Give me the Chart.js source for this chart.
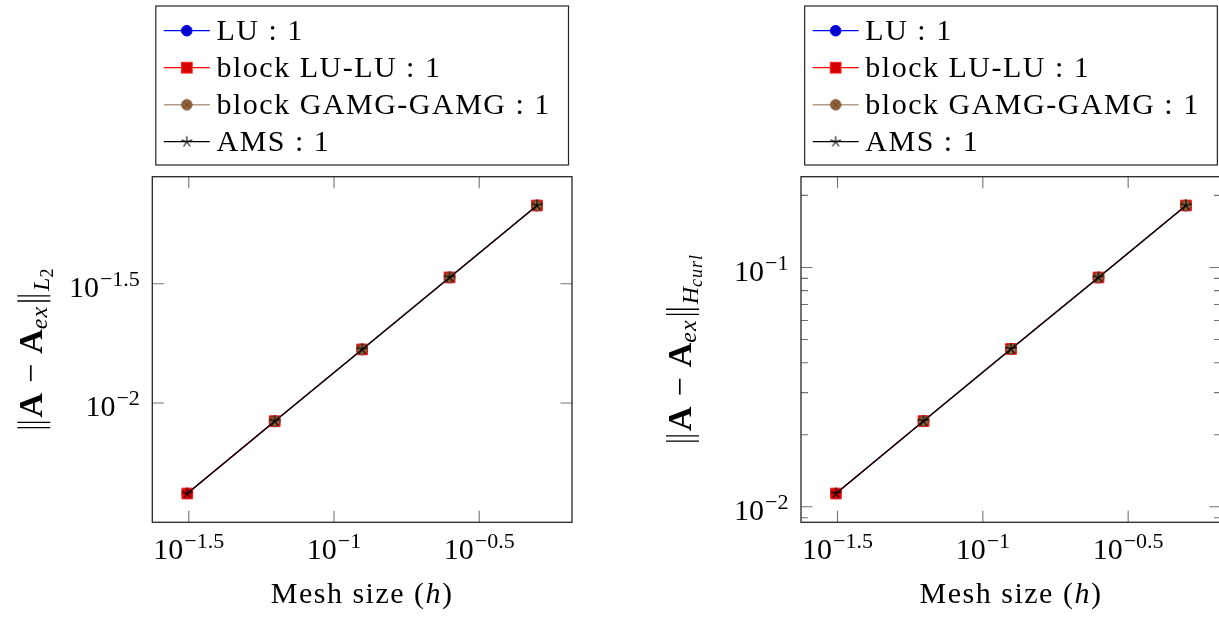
<!DOCTYPE html>
<html>
<head>
<meta charset="utf-8">
<script src="https://cdn.jsdelivr.net/npm/chart.js@4.4.1/dist/chart.umd.min.js"></script>
<style>
  html, body { margin: 0; padding: 0; background: #fff; overflow: hidden; width: 1219px; height: 617px; }
  #wrap { position: relative; width: 1219px; height: 617px; overflow: hidden; }
  canvas { position: absolute; top: 0; }
  #errL2 { left: 0; }
  #errHcurl { left: 610px; }
</style>
</head>
<body>
<div id="wrap">
  <canvas id="errL2" width="610" height="617"></canvas>
  <canvas id="errHcurl" width="660" height="617"></canvas>
</div>
<script>
// Mesh sizes h of the refinement study
const meshSizes = [0.03125, 0.0625, 0.125, 0.25, 0.5];

// Solver labels (element order 1)
const seriesNames = ['LU : 1', 'block LU-LU : 1', 'block GAMG-GAMG : 1', 'AMS : 1'];

// ||A - A_ex|| in L2 norm
const luL2   = [0.00417, 0.00838, 0.01677, 0.0336, 0.0673];
const luluL2 = [0.00417, 0.00838, 0.01677, 0.0336, 0.0673];
const gamgL2 = [null,    0.00838, 0.01677, 0.0336, 0.0673];
const amsL2  = [0.00417, 0.00838, 0.01677, 0.0336, 0.0673];

// ||A - A_ex|| in H(curl) norm
const luHcurl   = [0.01136, 0.0228, 0.04565, 0.0908, 0.1815];
const luluHcurl = [0.01136, 0.0228, 0.04565, 0.0908, 0.1815];
const gamgHcurl = [null,    0.0228, 0.04565, 0.0908, 0.1815];
const amsHcurl  = [0.01136, 0.0228, 0.04565, 0.0908, 0.1815];

// Tick labels are powers of ten; these are the exponents
const xTickExps = ['-1.5', '-1', '-0.5'];
const yTickExpsL2 = ['-1.5', '-2'];
const yTickExpsHcurl = ['-1', '-2'];
const yMinorHcurl = [0.009, 0.02, 0.03, 0.04, 0.05, 0.06, 0.07, 0.08, 0.09, 0.2];

const FAMILY = '"Liberation Serif", "DejaVu Serif", serif';
const F = {
  main: '30px ' + FAMILY,
  italic: 'italic 30px ' + FAMILY,
  tick: '30px ' + FAMILY,
  sup: '22px ' + FAMILY,
  ttl: '34px ' + FAMILY,
  ttlBold: 'bold 34px ' + FAMILY,
  sub: 'italic 24px ' + FAMILY,
  subsub: 'italic 18px ' + FAMILY,
  subsubUp: '18px ' + FAMILY
};

// ---- marker glyphs -------------------------------------------------------
function makeOtimes() {
  const c = document.createElement('canvas');
  c.width = 14; c.height = 14;
  const g = c.getContext('2d');
  const r = 5.2, cx = 7, cy = 7;
  g.beginPath(); g.arc(cx, cy, r, 0, Math.PI * 2);
  g.fillStyle = '#96653a'; g.fill();
  g.lineWidth = 0.8; g.strokeStyle = '#5e3d1f'; g.stroke();
  const d = r * Math.SQRT1_2;
  g.beginPath();
  g.moveTo(cx - d, cy - d); g.lineTo(cx + d, cy + d);
  g.moveTo(cx + d, cy - d); g.lineTo(cx - d, cy + d);
  g.stroke();
  return c;
}
function makeStar() {
  const c = document.createElement('canvas');
  c.width = 14; c.height = 14;
  const g = c.getContext('2d');
  const r = 5.2, cx = 7, cy = 7;
  g.beginPath();
  for (let k = 0; k < 5; k++) {
    const a = -Math.PI / 2 + k * 2 * Math.PI / 5;
    g.moveTo(cx, cy);
    g.lineTo(cx + r * Math.cos(a), cy + r * Math.sin(a));
  }
  g.lineWidth = 1.1; g.strokeStyle = '#000'; g.lineCap = 'round'; g.stroke();
  return c;
}
const otimesImg = makeOtimes();
const starImg = makeStar();

function drawMarker(ctx, ds, x, y) {
  const s = ds.pointStyle;
  if (s instanceof HTMLCanvasElement) {
    ctx.drawImage(s, x - s.width / 2, y - s.height / 2);
    return;
  }
  ctx.fillStyle = ds.pointBackgroundColor;
  ctx.strokeStyle = ds.pointBorderColor;
  ctx.lineWidth = ds.pointBorderWidth;
  if (s === 'circle') {
    ctx.beginPath(); ctx.arc(x, y, ds.pointRadius, 0, Math.PI * 2);
    ctx.fill(); ctx.stroke();
  } else if (s === 'rect') {
    const h = ds.pointRadius * Math.SQRT1_2;
    ctx.fillRect(x - h, y - h, 2 * h, 2 * h);
    ctx.strokeRect(x - h, y - h, 2 * h, 2 * h);
  }
}

// ---- text with super/subscripts ------------------------------------------
// A part is either a text run {t, font, dy, dx, ls} or a norm bar pair {norm: advance}
function partWidth(ctx, p) {
  if (p.norm) return p.norm + (p.dx || 0);
  ctx.font = p.font; ctx.letterSpacing = p.ls || '0px';
  return ctx.measureText(p.t).width + (p.dx || 0);
}
function drawRich(ctx, parts, x, y, align) {
  let w = 0;
  for (const p of parts) w += partWidth(ctx, p);
  let cx = align === 'center' ? x - w / 2 : align === 'right' ? x - w : x;
  ctx.textAlign = 'left';
  ctx.textBaseline = 'alphabetic';
  for (const p of parts) {
    cx += (p.dx || 0);
    if (p.norm) {
      ctx.save();
      ctx.strokeStyle = ctx.fillStyle;
      ctx.lineWidth = 1.3;
      ctx.beginPath();
      for (const bx of [cx + p.norm * 0.3, cx + p.norm * 0.7]) {
        ctx.moveTo(bx, y - 25); ctx.lineTo(bx, y + 8);
      }
      ctx.stroke();
      ctx.restore();
      cx += p.norm;
      continue;
    }
    ctx.font = p.font; ctx.letterSpacing = p.ls || '0px';
    ctx.fillText(p.t, cx, y + (p.dy || 0));
    cx += ctx.measureText(p.t).width;
  }
  ctx.letterSpacing = '0px';
}
function powerLabel(exp) {
  return [
    { t: '10', font: F.tick },
    { t: exp.replace('-', '\u2212'), font: F.sup, dy: -11, dx: 1 }
  ];
}

const LS = '1.5px';
const xTitleParts = [
  { t: 'Mesh size (', font: F.main, ls: LS },
  { t: 'h', font: F.italic, ls: LS },
  { t: ')', font: F.main, ls: LS }
];
function normTitle(subMain, subSmall, smallFont) {
  return [
    { norm: 13 },
    { t: 'A', font: F.ttlBold, dx: 1 },
    { t: '\u2212', font: F.ttl, dx: 10 },
    { t: 'A', font: F.ttlBold, dx: 10 },
    { t: 'ex', font: F.sub, dy: 5, ls: '1px' },
    { norm: 13, dx: 1 },
    { t: subMain, font: F.sub, dy: 7, dx: 1 },
    { t: subSmall, font: smallFont, dy: 11, ls: '1px' }
  ];
}
const yTitleL2 = normTitle('L', '2', F.subsubUp);
const yTitleHcurl = normTitle('H', 'curl', F.subsub);

// ---- axes frame, inward ticks, labels and legend -------------------------
const framePlugin = {
  id: 'frame',
  afterDraw(chart, args, opts) {
    const ctx = chart.ctx;
    const { left, right, top, bottom } = chart.chartArea;
    const xs = chart.scales.x, ys = chart.scales.y;
    const xMajor = opts.xExps.map(e => ({ e, px: xs.getPixelForValue(Math.pow(10, parseFloat(e))) }));
    const yMajor = opts.yExps.map(e => ({ e, py: ys.getPixelForValue(Math.pow(10, parseFloat(e))) }));
    const yMinor = opts.yMinor.map(v => ys.getPixelForValue(v));
    ctx.save();

    // ticks, pointing inwards on all four sides
    ctx.strokeStyle = 'rgba(0,0,0,0.55)';
    ctx.lineWidth = 1.1;
    ctx.beginPath();
    for (const { px } of xMajor) {
      ctx.moveTo(px, bottom); ctx.lineTo(px, bottom - 11.5);
      ctx.moveTo(px, top); ctx.lineTo(px, top + 11.5);
    }
    for (const { py } of yMajor) {
      ctx.moveTo(left, py); ctx.lineTo(left + 11.5, py);
      ctx.moveTo(right, py); ctx.lineTo(right - 11.5, py);
    }
    for (const py of yMinor) {
      ctx.moveTo(left, py); ctx.lineTo(left + 7, py);
      ctx.moveTo(right, py); ctx.lineTo(right - 7, py);
    }
    ctx.stroke();

    // box
    ctx.strokeStyle = '#262626';
    ctx.lineWidth = 1.3;
    ctx.strokeRect(left, top, right - left, bottom - top);

    // tick labels
    ctx.fillStyle = '#000';
    for (const { e, px } of xMajor) drawRich(ctx, powerLabel(e), px, bottom + 37, 'center');
    for (const { e, py } of yMajor) drawRich(ctx, powerLabel(e), left - 12.5, py + 13.5, 'right');

    // axis titles
    drawRich(ctx, xTitleParts, (left + right) / 2, bottom + 80.7, 'center');
    ctx.save();
    ctx.translate(left - 110, (top + bottom) / 2);
    ctx.rotate(-Math.PI / 2);
    drawRich(ctx, opts.yTitle, 0, 0, 'center');
    ctx.restore();

    // legend
    const lw = 412.7;
    const bx = (left + right) / 2 - lw / 2;
    ctx.strokeStyle = '#262626';
    ctx.lineWidth = 1.2;
    ctx.strokeRect(bx, 6, lw, 159);
    chart.data.datasets.forEach((ds, i) => {
      const ry = 30.7 + i * 37;
      ctx.strokeStyle = ds.borderColor;
      ctx.lineWidth = ds.borderWidth;
      ctx.beginPath(); ctx.moveTo(bx + 8, ry); ctx.lineTo(bx + 54, ry); ctx.stroke();
      drawMarker(ctx, ds, bx + 31, ry);
      ctx.fillStyle = '#000';
      drawRich(ctx, [{ t: ds.label, font: F.main, ls: LS }], bx + 60.7, ry + 9.5, 'left');
    });
    ctx.restore();
  }
};

// log-axis limits: data range enlarged by 10% of its span (in decades) on each side
function logLimits(values) {
  const v = values.filter(a => a != null && a > 0);
  const lo = Math.log10(Math.min(...v)), hi = Math.log10(Math.max(...v));
  const pad = 0.1 * (hi - lo);
  return { min: Math.pow(10, lo - pad), max: Math.pow(10, hi + pad) };
}

function points(vals) {
  return meshSizes.map((h, i) => ({ x: h, y: vals[i] }));
}

function buildChart(id, series, yExps, yMinor, yTitle, axisWidth, padRight) {
  const xl = logLimits(meshSizes);
  const yl = logLimits([].concat(...series));
  const datasets = [
    { label: seriesNames[0], data: points(series[0]), borderColor: '#0000ff', borderWidth: 1.2,
      pointStyle: 'circle', pointRadius: 5.3, pointBackgroundColor: '#0000cc',
      pointBorderColor: '#0000ff', pointBorderWidth: 1, order: 3 },
    { label: seriesNames[1], data: points(series[1]), borderColor: '#ff0000', borderWidth: 1.2,
      pointStyle: 'rect', pointRadius: 7.6, pointBackgroundColor: '#d60000',
      pointBorderColor: '#ff2020', pointBorderWidth: 1, order: 2 },
    { label: seriesNames[2], data: points(series[2]), borderColor: '#b39d86', borderWidth: 1.5,
      pointStyle: otimesImg, pointRadius: 5.5, pointBackgroundColor: '#96653a',
      pointBorderColor: '#5e3d1f', pointBorderWidth: 0.8, order: 1 },
    { label: seriesNames[3], data: points(series[3]), borderColor: '#000000', borderWidth: 1.3,
      pointStyle: starImg, pointRadius: 5.2, pointBackgroundColor: '#000',
      pointBorderColor: '#000', pointBorderWidth: 1, order: 0 }
  ];
  return new Chart(document.getElementById(id), {
    type: 'line',
    data: { datasets },
    options: {
      responsive: false,
      devicePixelRatio: 1,
      animation: false,
      events: [],
      layout: { padding: { left: 0, top: 176.7, right: padRight, bottom: 0 } },
      elements: { line: { tension: 0, fill: false } },
      scales: {
        x: {
          type: 'logarithmic', min: xl.min, max: xl.max, bounds: 'data',
          grid: { display: false }, border: { display: false }, ticks: { display: false },
          afterFit: s => { s.height = 94.7; }
        },
        y: {
          type: 'logarithmic', min: yl.min, max: yl.max, bounds: 'data',
          grid: { display: false }, border: { display: false }, ticks: { display: false },
          afterFit: s => { s.width = axisWidth; }
        }
      },
      plugins: {
        legend: { display: false },
        tooltip: { enabled: false },
        frame: { yTitle, xExps: xTickExps, yExps, yMinor }
      }
    },
    plugins: [framePlugin]
  });
}

buildChart('errL2', [luL2, luluL2, gamgL2, amsL2], yTickExpsL2, [], yTitleL2, 152.3, 38);
buildChart('errHcurl', [luHcurl, luluHcurl, gamgHcurl, amsHcurl], yTickExpsHcurl, yMinorHcurl, yTitleHcurl, 191, 49);
</script>
</body>
</html>
